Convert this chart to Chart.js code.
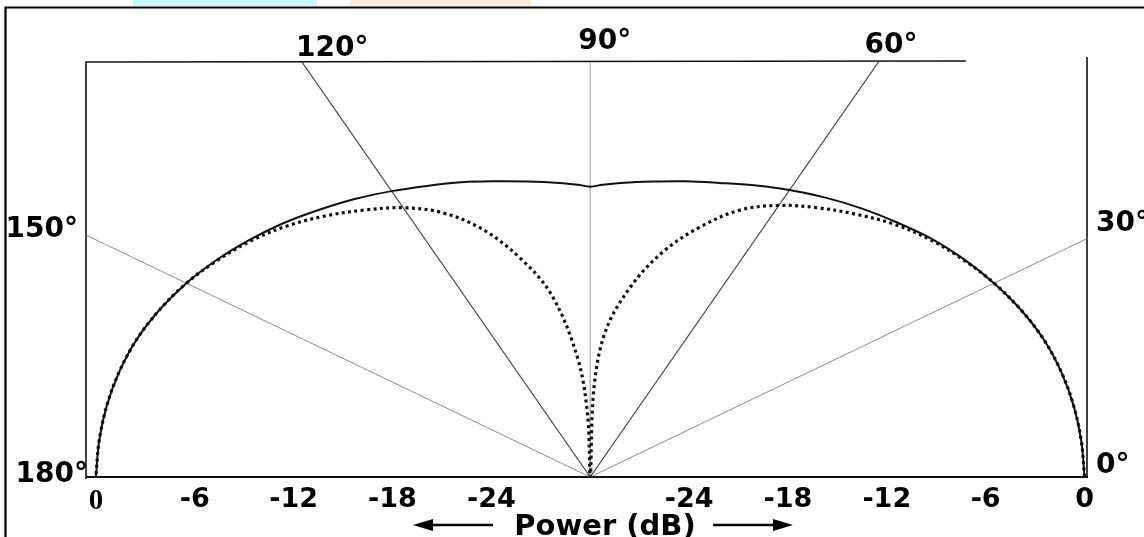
<!DOCTYPE html>
<html>
<head>
<meta charset="utf-8">
<title>Radiation pattern</title>
<script src="https://cdn.jsdelivr.net/npm/chart.js@4.4.1/dist/chart.umd.min.js"></script>
<style>
    html, body { margin: 0; padding: 0; background: #fff; }
    #wrap { width: 1144px; height: 537px; position: relative; }
</style>
</head>
<body>
<div id="wrap"><canvas id="pattern"></canvas></div>
<script>
// 角度 (deg) - 0° が右、180° が左
const angles = [0, 5, 10, 15, 20, 25, 30, 35, 40, 45, 50, 55, 60, 65, 70, 75, 80, 85, 88,
                90, 92, 95, 100, 105, 110, 115, 120, 125, 130, 135, 140, 145, 150, 155, 160,
                165, 170, 175, 180];

// 実線パターン (dB)
const solidDb = [0, -0.08, -0.2, -0.4, -0.7, -1.15, -1.7, -2.3, -2.95, -3.7, -4.4, -5.1, -5.8,
                 -6.5, -7.15, -7.65, -8.1, -8.45, -8.65, -8.8, -8.65, -8.45, -8.1, -7.65, -7.1,
                 -6.55, -5.9, -5.2, -4.5, -3.75, -3.05, -2.35, -1.7, -1.15, -0.7, -0.4, -0.2, -0.08, 0];

// 点線パターン (dB)
const dottedDb = [0, -0.08, -0.2, -0.4, -0.7, -1.15, -1.7, -2.35, -3.05, -3.9, -4.95, -6.0, -7.1,
                  -8.5, -10.6, -13.0, -15.9, -19.3, -23.5, -30, -25.5, -21.3, -16.5, -13.4, -10.7,
                  -8.7, -7.3, -6.2, -5.1, -4.05, -3.15, -2.4, -1.7, -1.15, -0.7, -0.4, -0.2, -0.08, 0];

// 放射線の角度
const rayAngles = [30, 60, 90, 120, 150];
// 目盛 (dB) 中心から外側へ
const powerTicks = [-24, -18, -12, -6, 0];
const dbFloor = -30;
const angleLabels = ['0°', '30°', '60°', '90°', '120°', '150°', '180°'];

const toXY = (deg, db) => {
    const r = Math.max(0, (db - dbFloor) / -dbFloor);
    const t = deg * Math.PI / 180;
    return { x: r * Math.cos(t), y: r * Math.sin(t) };
};

// 目盛位置とラベル（左右対称）
const tickValues = [];
const tickLabels = [];
[...powerTicks].reverse().forEach(db => {
    tickValues.push(-(db - dbFloor) / -dbFloor);
    tickLabels.push(String(db));
});
powerTicks.forEach(db => {
    tickValues.push((db - dbFloor) / -dbFloor);
    tickLabels.push(String(db));
});

const rayStyle = {
    30: { color: '#8c8c8c', width: 1 },
    60: { color: '#3c3c3c', width: 1.1 },
    90: { color: '#b8b8b8', width: 1.5 },
    120: { color: '#3c3c3c', width: 1.1 },
    150: { color: '#8c8c8c', width: 1 }
};

const rayDatasets = rayAngles.map(a => ({
    label: a + '°',
    data: [toXY(a, dbFloor), toXY(a, 9)],
    borderColor: rayStyle[a].color,
    borderWidth: rayStyle[a].width,
    pointRadius: 0,
    showLine: true,
    order: 5
}));

// 背景・枠・文字
const decorPlugin = {
    id: 'decor',
    beforeDraw(chart) {
        const { ctx, chartArea: ca, scales } = chart;
        ctx.save();
        ctx.fillStyle = '#fff';
        ctx.fillRect(0, 0, chart.width, chart.height);
        // スキャン上部の色帯
        ctx.fillStyle = '#cdf6fa';
        ctx.fillRect(133, 0, 184, 6);
        ctx.fillStyle = '#fde9da';
        ctx.fillRect(350, 0, 181, 6);
        // 外枠
        ctx.strokeStyle = '#000';
        ctx.lineWidth = 2.2;
        ctx.beginPath();
        ctx.moveTo(5.5, chart.height);
        ctx.lineTo(5.5, 7.5);
        ctx.lineTo(chart.width, 7.5);
        ctx.stroke();
        // 内枠
        ctx.strokeStyle = '#111';
        ctx.lineWidth = 1.6;
        ctx.beginPath();
        ctx.moveTo(ca.left, ca.bottom + 2);
        ctx.lineTo(ca.left, ca.top);
        ctx.lineTo(scales.x.getPixelForValue(0.76), ca.top - 1);
        ctx.moveTo(ca.right, ca.top - 5);
        ctx.lineTo(ca.right, ca.bottom);
        ctx.stroke();
        ctx.lineWidth = 2;
        ctx.beginPath();
        ctx.moveTo(ca.left, ca.bottom);
        ctx.lineTo(ca.right + 1, ca.bottom);
        ctx.stroke();
        ctx.restore();
    },
    afterDraw(chart) {
        const { ctx, chartArea: ca, scales } = chart;
        const xs = scales.x;
        const topHit = a => xs.getPixelForValue(scales.y.max / Math.tan(a * Math.PI / 180));
        ctx.save();
        ctx.fillStyle = '#000';
        ctx.font = 'bold 28px "DejaVu Sans"';
        ctx.textBaseline = 'alphabetic';
        ctx.textAlign = 'left';
        ctx.fillText(angleLabels[0], ca.right + 9, 473);
        ctx.fillText(angleLabels[1], ca.right + 9, 231);
        ctx.fillText(angleLabels[2], topHit(60) - 14, 53);
        ctx.fillText(angleLabels[3], xs.getPixelForValue(0) - 12, 49);
        ctx.fillText(angleLabels[4], topHit(120) - 6, 56);
        ctx.textAlign = 'right';
        ctx.fillText(angleLabels[5], ca.left - 8, 237);
        ctx.fillText(angleLabels[6], ca.left + 2, 482);

        // 軸タイトルと矢印
        ctx.textAlign = 'center';
        ctx.font = 'bold 29px "DejaVu Sans"';
        ctx.fillText('Power (dB)', 605, 535);
        ctx.strokeStyle = '#000';
        ctx.lineWidth = 2.5;
        ctx.beginPath();
        ctx.moveTo(493, 525); ctx.lineTo(425, 525);
        ctx.moveTo(713, 525); ctx.lineTo(781, 525);
        ctx.stroke();
        ctx.beginPath();
        ctx.moveTo(413, 525); ctx.lineTo(433, 519); ctx.lineTo(433, 531); ctx.closePath();
        ctx.moveTo(793, 525); ctx.lineTo(773, 519); ctx.lineTo(773, 531); ctx.closePath();
        ctx.fill();
        ctx.restore();
    }
};

new Chart(document.getElementById('pattern').getContext('2d'), {
    type: 'scatter',
    data: {
        datasets: [
            {
                label: 'solid',
                data: angles.map((a, i) => toXY(a, solidDb[i])),
                borderColor: '#111',
                borderWidth: 2,
                pointRadius: 0,
                showLine: true,
                tension: 0.35,
                order: 2
            },
            {
                label: 'dotted',
                data: angles.map((a, i) => toXY(a, dottedDb[i])),
                borderColor: '#111',
                borderWidth: 3.2,
                borderDash: [3, 3.4],
                borderCapStyle: 'butt',
                pointRadius: 0,
                showLine: true,
                tension: 0.35,
                order: 1
            },
            ...rayDatasets
        ]
    },
    options: {
        responsive: true,
        maintainAspectRatio: false,
        animation: false,
        layout: { padding: { left: 86, right: 57, top: 62, bottom: 18 } },
        plugins: {
            legend: { display: false },
            tooltip: { enabled: false }
        },
        scales: {
            x: {
                type: 'linear',
                min: -1.02,
                max: 1.005,
                grid: { display: false, drawTicks: false },
                border: { display: false },
                afterBuildTicks: scale => {
                    scale.ticks = tickValues.map(v => ({ value: v }));
                },
                afterFit: scale => { scale.height = 42; },
                ticks: {
                    padding: 7,
                    color: '#000',
                    maxRotation: 0,
                    autoSkip: false,
                    font: ctx => ctx.index === 0
                        ? { family: '"Liberation Serif"', size: 29, weight: 'bold' }
                        : { family: '"DejaVu Sans"', size: 27, weight: 'bold' },
                    callback: (value, index) => tickLabels[index]
                }
            },
            y: {
                type: 'linear',
                display: false,
                min: 0,
                max: 1.01
            }
        }
    },
    plugins: [decorPlugin]
});
</script>
</body>
</html>
